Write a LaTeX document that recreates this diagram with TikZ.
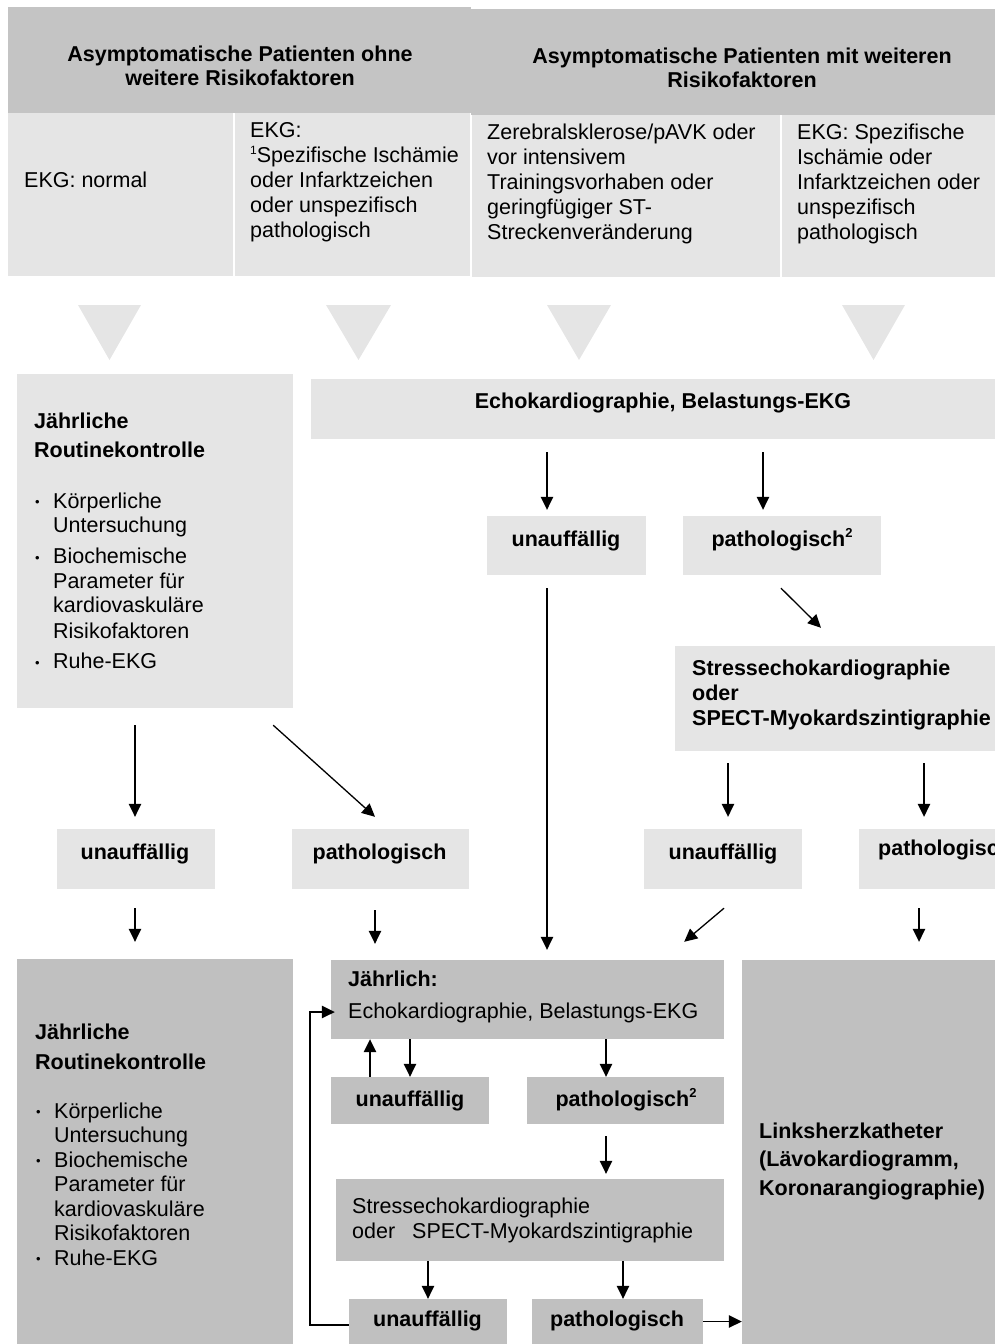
\documentclass[tikz,border=0pt]{standalone}
\usepackage{fontspec}
\setmainfont{Liberation Sans}
\usetikzlibrary{arrows.meta,fit,calc}
\definecolor{dk}{RGB}{192,192,192}
\definecolor{lt}{RGB}{229,229,229}
\definecolor{hd}{RGB}{196,196,196}
\tikzset{
  dbox/.style={fill=dk, draw=none, inner sep=0pt},
  lbox/.style={fill=lt, draw=none, inner sep=0pt},
  hbox/.style={fill=hd, draw=none, inner sep=0pt},
  txt/.style={inner sep=0pt, font=\fontsize{21.5}{25}\selectfont},
  btxt/.style={inner sep=0pt, font=\fontsize{21.5}{25}\selectfont\bfseries},
  lbl/.style={btxt, anchor=base},
  arr/.style={line width=1.3pt, -{Triangle[length=13pt,width=12.5pt]}},
}
\newcommand\mybul{\makebox[19pt][l]{\hspace{1pt}\raisebox{1.5pt}{\fontsize{13}{13}\selectfont •}}}
\newcommand\mysup[1]{\raisebox{8pt}{\fontsize{12}{12}\selectfont #1}}
\newcommand\mybsup[1]{\raisebox{9pt}{\fontsize{13}{13}\selectfont\bfseries #1}}
\begin{document}
\begin{tikzpicture}[x=1pt,y=-1pt]
\useasboundingbox (0,0) rectangle (995,1344);
\clip (0,0) rectangle (995,1344);
% header and cells
\node[hbox, fit={(8,7) (471,113)}] (h1) {};
\node[hbox, fit={(471,9) (995,115)}] (h2) {};
\node[lbox, fit={(8,113) (233,276)}] (c1) {};
\node[lbox, fit={(235,113) (470,276)}] (c2) {};
\node[lbox, fit={(472,115) (780,277)}] (c3) {};
\node[lbox, fit={(782,115) (995,277)}] (c4) {};
\node[btxt, font=\fontsize{21.5}{24}\selectfont\bfseries, anchor=base] (h1t) at (240,61)
  {\begin{tabular}[t]{@{}c@{}}Asymptomatische Patienten ohne\\ weitere Risikofaktoren\end{tabular}};
\node[btxt, font=\fontsize{21.5}{24}\selectfont\bfseries, anchor=base] (h2t) at (742,63)
  {\begin{tabular}[t]{@{}c@{}}Asymptomatische Patienten mit weiteren\\ Risikofaktoren\end{tabular}};
\node[txt, anchor=base west] (c1t) at (24,187) {EKG: normal};
\node[txt, anchor=base west] (c2t) at (250,137)
  {\begin{tabular}[t]{@{}l@{}}EKG:\\ \mysup{1}Spezifische Ischämie\\ oder Infarktzeichen\\ oder unspezifisch\\ pathologisch\end{tabular}};
\node[txt, anchor=base west] (c3t) at (487,139)
  {\begin{tabular}[t]{@{}l@{}}Zerebralsklerose/pAVK oder\\ vor intensivem\\ Trainingsvorhaben oder\\ geringfügiger ST-\\ Streckenveränderung\end{tabular}};
\node[txt, anchor=base west] (c4t) at (797,139)
  {\begin{tabular}[t]{@{}l@{}}EKG: Spezifische\\ Ischämie oder\\ Infarktzeichen oder\\ unspezifisch\\ pathologisch\end{tabular}};
% triangles
\fill[lt] (78,305) -- (141,305) -- (109.5,360) -- cycle;
\fill[lt] (326,305) -- (391,305) -- (358.5,360) -- cycle;
\fill[lt] (547,305) -- (611,305) -- (579,360) -- cycle;
\fill[lt] (842,305) -- (905,305) -- (873.5,360) -- cycle;
% upper boxes
\node[lbox, fit={(17,374) (293,708)}] (R1) {};
\node[lbox, fit={(311,379) (995,439)}] (echo) {};
\node[lbox, fit={(487,516) (646,575)}] (A) {};
\node[lbox, fit={(683,516) (881,575)}] (P2) {};
\node[lbox, fit={(675,646) (995,751)}] (S) {};
\node[lbox, fit={(57,829) (215,889)}] (B) {};
\node[lbox, fit={(292,829) (469,889)}] (C) {};
\node[lbox, fit={(644,829) (802,889)}] (D) {};
\node[lbox, fit={(859,829) (995,889)}] (E) {};
% lower boxes
\node[dbox, fit={(17,959) (293,1344)}] (R2) {};
\node[dbox, fit={(331,960) (724,1039)}] (M) {};
\node[dbox, fit={(331,1077) (489,1124)}] (F) {};
\node[dbox, fit={(527,1077) (724,1124)}] (G) {};
\node[dbox, fit={(336,1179) (724,1261)}] (H) {};
\node[dbox, fit={(349,1299) (507,1344)}] (I) {};
\node[dbox, fit={(532,1299) (703,1344)}] (J) {};
\node[dbox, fit={(742,960) (995,1344)}] (K) {};
% texts
\node[txt, font=\fontsize{21.5}{24.5}\selectfont, anchor=base west] (R1t) at (34,428)
  {\begin{tabular}[t]{@{}l@{}l@{}}
  \multicolumn{2}{@{}l@{}}{\textbf{Jährliche}}\\[4.5pt]
  \multicolumn{2}{@{}l@{}}{\textbf{Routinekontrolle}}\\[26.5pt]
  \mybul & Körperliche\\
   & Untersuchung\\[6.5pt]
  \mybul & Biochemische\\
   & Parameter für\\
   & kardiovaskuläre\\[1.5pt]
   & Risikofaktoren\\[5.5pt]
  \mybul & Ruhe-EKG
  \end{tabular}};
\node[lbl] (echot) at (663,408) {Echokardiographie, Belastungs-EKG};
\node[lbl] (At) at (566,546) {unauffällig};
\node[lbl] (P2t) at (782,546) {pathologisch\mybsup{2}};
\node[btxt, anchor=base west] (St) at (692,675)
  {\begin{tabular}[t]{@{}l@{}}Stressechokardiographie\\ oder\\ SPECT-Myokardszintigraphie\end{tabular}};
\node[lbl] (Bt) at (135,859) {unauffällig};
\node[lbl] (Ct) at (379.5,859) {pathologisch};
\node[lbl] (Dt) at (723,859) {unauffällig};
\node[btxt, anchor=base west] (Et) at (878,855) {pathologisch};
\node[txt, font=\fontsize{21.5}{24.5}\selectfont, anchor=base west] (R2t) at (35,1039)
  {\begin{tabular}[t]{@{}l@{}l@{}}
  \multicolumn{2}{@{}l@{}}{\textbf{Jährliche}}\\[5.5pt]
  \multicolumn{2}{@{}l@{}}{\textbf{Routinekontrolle}}\\[24.5pt]
  \mybul & Körperliche\\
   & Untersuchung\\
  \mybul & Biochemische\\
   & Parameter für\\
   & kardiovaskuläre\\
   & Risikofaktoren\\
  \mybul & Ruhe-EKG
  \end{tabular}};
\node[txt, anchor=base west] (Mt) at (348,986)
  {\begin{tabular}[t]{@{}l@{}}\textbf{Jährlich:}\\[7pt] Echokardiographie, Belastungs-EKG\end{tabular}};
\node[lbl] (Ft) at (410,1106) {unauffällig};
\node[lbl] (Gt) at (626,1106) {pathologisch\mybsup{2}};
\node[txt, anchor=base west] (Ht) at (352,1213)
  {\begin{tabular}[t]{@{}l@{}}Stressechokardiographie\\ oder\hspace{17pt}SPECT-Myokardszintigraphie\end{tabular}};
\node[lbl] (It) at (427.5,1326) {unauffällig};
\node[lbl] (Jt) at (617,1326) {pathologisch};
\node[btxt, anchor=base west] (Kt) at (759,1138)
  {\begin{tabular}[t]{@{}l@{}}Linksherzkatheter\\[3.5pt] (Lävokardiogramm,\\[3.5pt] Koronarangiographie)\end{tabular}};
% column coordinates
\coordinate (xA) at (547,0);
\coordinate (xB) at (763,0);
\coordinate (xS1) at (728,0);
\coordinate (xS2) at (924,0);
\coordinate (xL) at (135,0);
\coordinate (xC) at (375,0);
\coordinate (xE) at (919,0);
\coordinate (xF1) at (370,0);
\coordinate (xF2) at (410,0);
\coordinate (xG) at (606,0);
\coordinate (xH1) at (428,0);
\coordinate (xH2) at (623,0);
\coordinate (xLoop) at (310,0);
\coordinate (yLoop) at (0,1012);
% connectors
\draw[arr, shorten <=13pt, shorten >=6pt] (echo.south -| xA) -- (A.north -| xA);
\draw[arr, shorten <=13pt, shorten >=6pt] (echo.south -| xB) -- (P2.north -| xB);
\draw[arr, shorten <=13pt, shorten >=10pt] (A.south -| xA) -- (M.north -| xA);
\draw[arr] ($(P2.south)+(-1,13)$) -- ($(S.north)+(-14,-18)$);
\draw[arr, shorten <=12pt, shorten >=12pt] (S.south -| xS1) -- (D.north -| xS1);
\draw[arr, shorten <=12pt, shorten >=12pt] (S.south -| xS2) -- (E.north -| xS2);
\draw[arr, shorten <=17pt, shorten >=12pt] (R1.south -| xL) -- (B.north -| xL);
\draw[arr] ($(R1.south east)+(-20,17)$) -- ($(C.north)+(-5.5,-12)$);
\draw[arr, shorten <=19pt, shorten >=17pt] (B.south -| xL) -- (R2.north -| xL);
\draw[arr, shorten <=21pt, shorten >=16pt] (C.south -| xC) -- (M.north -| xC);
\draw[arr] ($(D.south)+(1,19)$) -- ($(M.north east)+(-40,-18)$);
\draw[arr, shorten <=19pt, shorten >=18pt] (E.south -| xE) -- (K.north -| xE);
\draw[arr] (M.south -| xF2) -- (F.north -| xF2);
\draw[arr] (F.north -| xF1) -- (M.south -| xF1);
\draw[arr] (M.south -| xG) -- (G.north -| xG);
\draw[arr, shorten <=12pt, shorten >=5pt] (G.south -| xG) -- (H.north -| xG);
\draw[arr] (H.south -| xH1) -- (I.north -| xH1);
\draw[arr] (H.south -| xH2) -- (J.north -| xH2);
\draw[arr] (J.east) -- (K.west |- J.east);
\draw[arr, shorten >=-4pt] ($(I.west)+(0,3.5)$) -| (xLoop |- yLoop) -- (M.west |- yLoop);
\end{tikzpicture}
\end{document}
